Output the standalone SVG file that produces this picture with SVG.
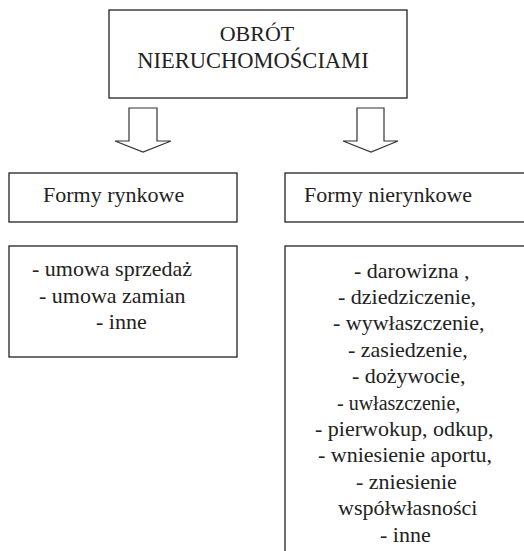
<svg xmlns="http://www.w3.org/2000/svg" width="524" height="551" viewBox="0 0 524 551">
<style>
.box{fill:#fff;stroke:#222;stroke-width:1.3}
.arr{fill:#fff;stroke:#333;stroke-width:1.2;stroke-linejoin:miter}
text{font-family:"Liberation Serif","Times New Roman",serif;font-size:22px;fill:#222}
.c{text-anchor:middle}
</style>
<rect width="524" height="551" fill="#fff"/>
<g id="connectors">
<path class="arr" d="M129,108 L157,108 L157,141 L171,141 L143,152 L115,141 L129,141 Z"/>
<path class="arr" d="M357,108 L384,108 L384,141 L398,141 L371,152 L343,141 L357,141 Z"/>
</g>
<g id="root">
<rect class="box" x="109" y="10" width="298" height="88"/>
<text class="c" x="257" y="41">OBRÓT</text>
<text class="c" x="253" y="68" style="font-size:22.5px">NIERUCHOMOŚCIAMI</text>
</g>
<g id="rynkowe">
<rect class="box" x="9" y="173" width="228" height="49"/>
<text x="43" y="202">Formy rynkowe</text>
</g>
<g id="nierynkowe">
<rect class="box" x="285" y="173" width="250" height="49"/>
<text x="304" y="202">Formy nierynkowe</text>
</g>
<g id="rynkowe-list">
<rect class="box" x="9" y="246" width="228" height="111"/>
<text x="32" y="276">- umowa sprzedaż</text>
<text x="39" y="302.5">- umowa zamian</text>
<text x="96" y="329">- inne</text>
</g>
<g id="nierynkowe-list">
<rect class="box" x="285" y="246" width="250" height="320"/>
<text x="354" y="277.5">- darowizna ,</text>
<text x="338" y="304">- dziedziczenie,</text>
<text x="333" y="330.4">- wywłaszczenie,</text>
<text x="348" y="356.8">- zasiedzenie,</text>
<text x="352" y="383.2">- dożywocie,</text>
<text x="337" y="409.6" style="font-size:20px">- uwłaszczenie,</text>
<text x="315" y="436">- pierwokup, odkup,</text>
<text x="318" y="462.4">- wniesienie aportu,</text>
<text x="356" y="488.8">- zniesienie</text>
<text x="338" y="515.2">współwłasności</text>
<text x="380" y="541.6">- inne</text>
</g>
</svg>
